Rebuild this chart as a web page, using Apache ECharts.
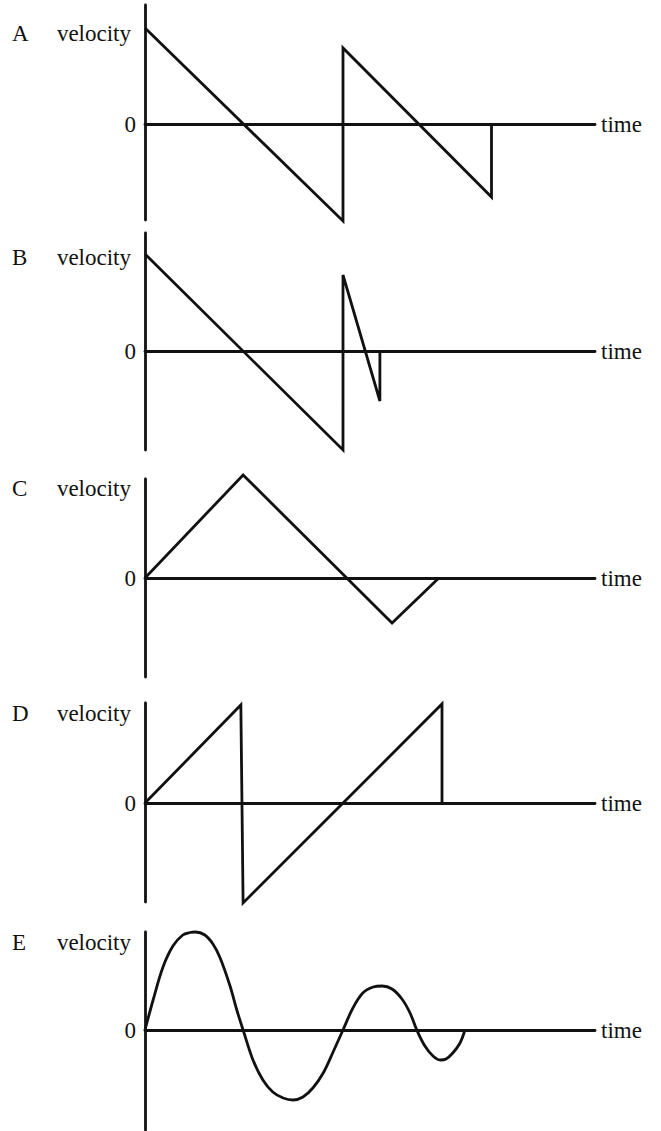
<!DOCTYPE html>
<html>
<head>
<meta charset="utf-8">
<script src="https://cdn.jsdelivr.net/npm/echarts@6/dist/echarts.min.js"></script>
<style>
  html, body { margin: 0; padding: 0; background: #fff; }
  #chart { width: 661px; height: 1131px; }
</style>
</head>
<body>
<div id="chart"></div>
<script>
// panel letters
const panelNames = ['A', 'B', 'C', 'D', 'E'];

// A: falls, jumps up, falls again, back to zero
const timeA = [0, 4.4, 4.4, 7.7, 7.7];
const velA  = [9.6, -9.7, 7.6, -7.3, 0];
// B: same start, then a short steep fall
const timeB = [0, 4.4, 4.4, 5.22, 5.22];
const velB  = [9.7, -9.9, 7.6, -5.0, 0];
// C: triangle up and down
const timeC = [0, 2.18, 5.49, 6.53];
const velC  = [0, 10.3, -4.5, 0];
// D: rises, drops, rises again
const timeD = [0, 2.13, 2.18, 6.6, 6.6];
const velD  = [0, 9.8, -10.0, 9.9, 0];
// E: damped wave
const timeE = [0, 0.18, 0.40, 0.62, 0.84, 1.00, 1.12, 1.33, 1.51, 1.67, 1.89, 2.04, 2.18,
  2.40, 2.62, 2.84, 3.07, 3.29, 3.51, 3.73, 3.96, 4.18, 4.40,
  4.62, 4.84, 5.07, 5.27, 5.49, 5.71, 5.89, 6.04,
  6.22, 6.40, 6.56, 6.69, 6.84, 7.00, 7.11];
const velE  = [0, 3.0, 6.3, 8.4, 9.5, 9.75, 9.8, 9.5, 8.6, 7.2, 4.4, 2.0, 0,
  -3.0, -5.0, -6.2, -6.8, -7.0, -6.7, -5.8, -4.3, -2.2, 0,
  2.2, 3.7, 4.3, 4.4, 4.1, 3.1, 1.7, 0,
  -1.6, -2.6, -3.0, -2.9, -2.3, -1.3, 0];

const times = [timeA, timeB, timeC, timeD, timeE];
const vels = [velA, velB, velC, velD, velE];

// where each panel sits on the page
const layout = [
  { top: 5,   height: 215, yMin: -9.6,  yMax: 11.9, nameGap: -28, letterY: 33 },
  { top: 233, height: 217, yMin: -9.9,  yMax: 11.8, nameGap: -24, letterY: 257 },
  { top: 479, height: 198, yMin: -9.9,  yMax: 9.9,  nameGap: -9,  letterY: 488 },
  { top: 703, height: 199, yMin: -9.9,  yMax: 10.0, nameGap: -10, letterY: 713 },
  { top: 932, height: 198, yMin: -10.0, yMax: 9.8,  nameGap: -10, letterY: 942 }
];

const ink = '#111';
const font = '"Liberation Serif", "DejaVu Serif", serif';
const fontSize = 23;
const lw = 2.8;

const chart = echarts.init(document.getElementById('chart'), null, { renderer: 'svg' });

const option = {
  animation: false,
  backgroundColor: '#fff',
  textStyle: { fontFamily: font, color: ink },
  title: layout.map((p, i) => ({
    text: panelNames[i],
    left: 12,
    top: p.letterY - 12,
    padding: 0,
    textStyle: { fontFamily: font, fontSize: fontSize, fontWeight: 'normal', color: ink, lineHeight: 24 }
  })),
  grid: layout.map(p => ({ left: 145, width: 450, top: p.top, height: p.height })),
  xAxis: layout.map((p, i) => ({
    gridIndex: i,
    type: 'value',
    min: 0,
    max: 10,
    name: 'time',
    nameLocation: 'end',
    nameGap: 6,
    nameTextStyle: { fontFamily: font, fontSize: fontSize, color: ink, align: 'left', verticalAlign: 'middle' },
    axisLine: { show: true, onZero: true, lineStyle: { color: ink, width: lw } },
    axisTick: { show: false },
    axisLabel: { show: false },
    splitLine: { show: false }
  })),
  yAxis: layout.map((p, i) => ({
    gridIndex: i,
    type: 'value',
    min: p.yMin,
    max: p.yMax,
    name: 'velocity',
    nameLocation: 'end',
    nameGap: p.nameGap,
    nameTextStyle: { fontFamily: font, fontSize: fontSize, color: ink, align: 'right', verticalAlign: 'middle', padding: [0, 14, 0, 0] },
    axisLine: { show: true, onZero: false, lineStyle: { color: ink, width: lw } },
    axisTick: { show: false },
    splitLine: { show: false },
    axisLabel: { customValues: [0], margin: 9, fontFamily: font, fontSize: fontSize, color: ink }
  })),
  series: layout.map((p, i) => ({
    type: 'line',
    xAxisIndex: i,
    yAxisIndex: i,
    data: times[i].map((t, k) => [t, vels[i][k]]),
    symbol: 'none',
    showSymbol: false,
    clip: false,
    smooth: i === 4 ? 0.35 : false,
    lineStyle: { color: ink, width: lw, join: 'miter', miterLimit: 4 }
  }))
};

chart.setOption(option);
</script>
</body>
</html>
